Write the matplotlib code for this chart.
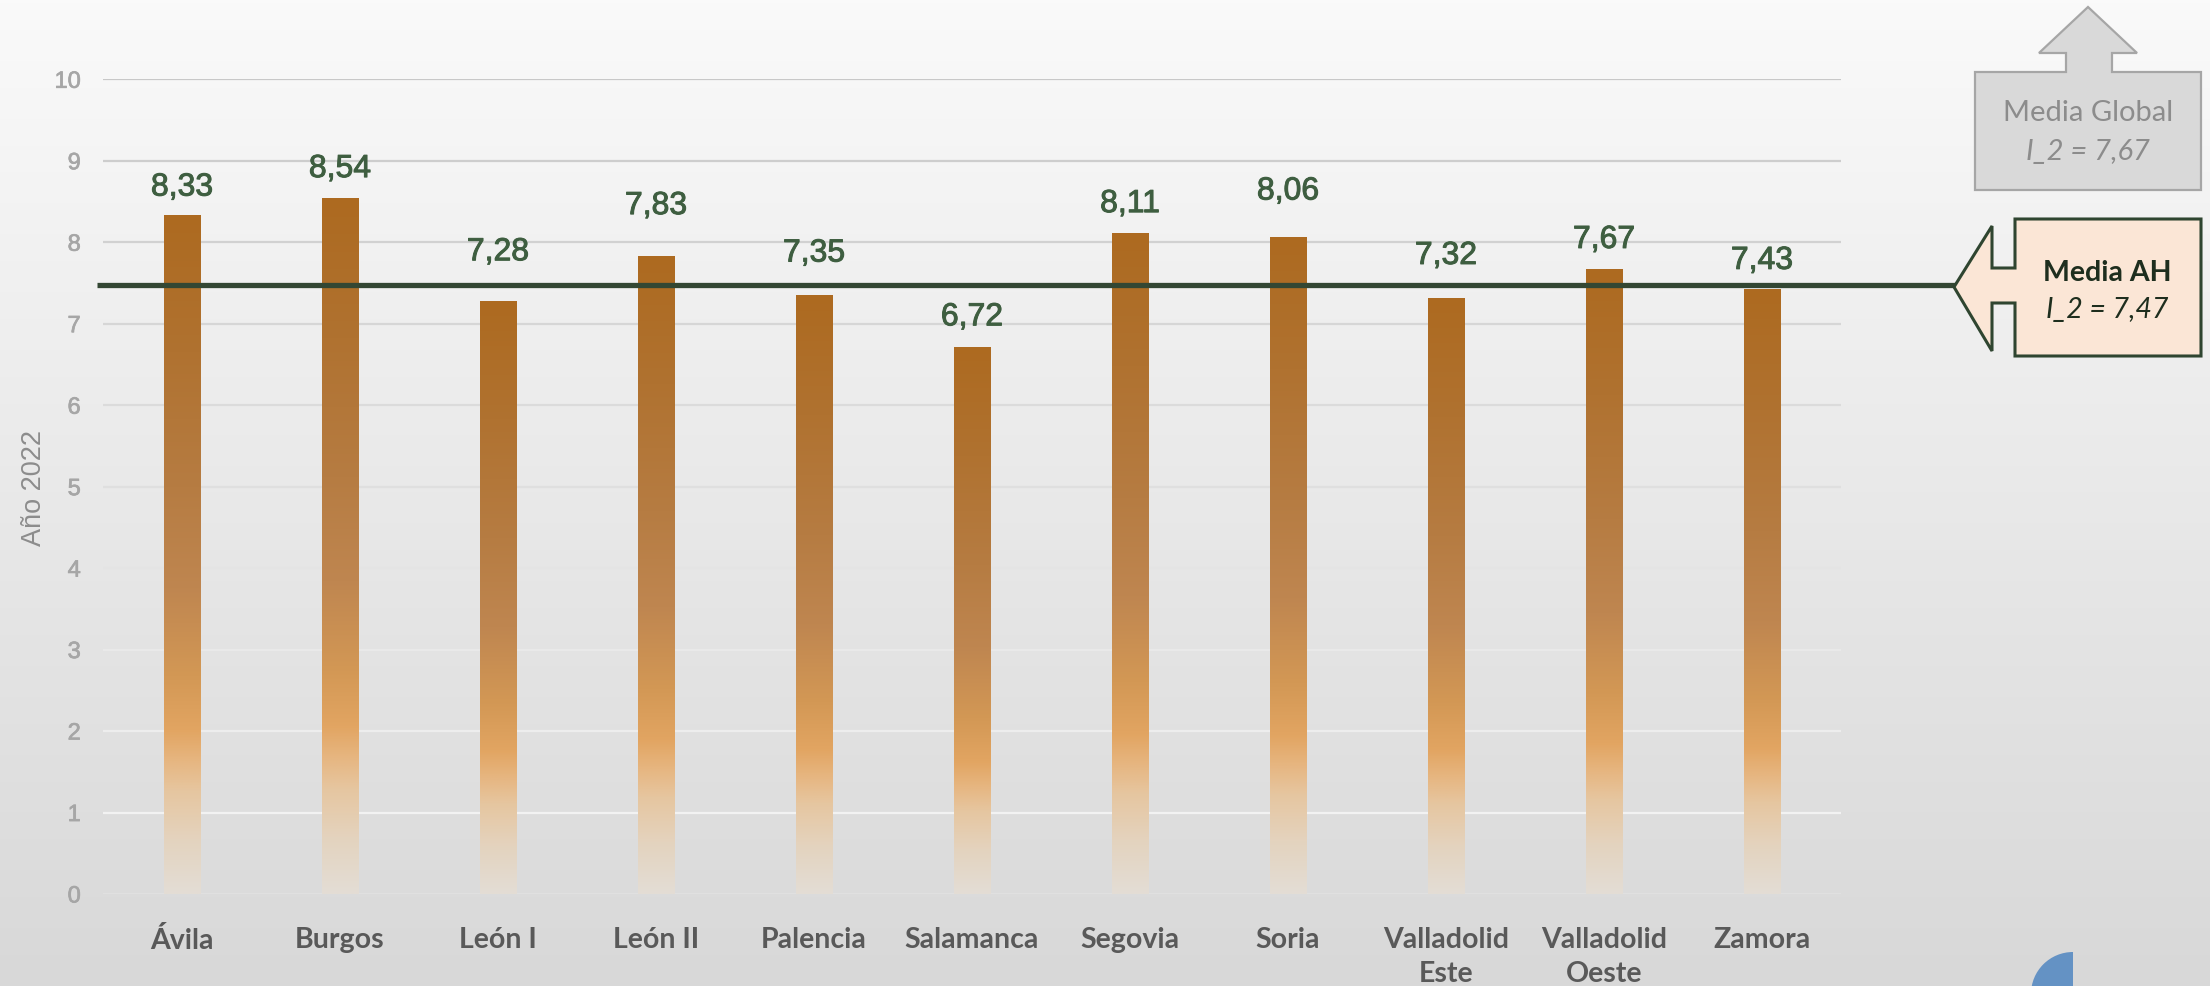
import matplotlib
matplotlib.use("Agg")
import matplotlib.pyplot as plt
import matplotlib.patheffects as pe
import numpy as np
from matplotlib.colors import LinearSegmentedColormap, to_rgb
from matplotlib.patches import Polygon, Wedge

W, H = 2210, 987

categories = ["Ávila", "Burgos", "León I", "León II", "Palencia", "Salamanca",
              "Segovia", "Soria", "Valladolid\nEste", "Valladolid\nOeste", "Zamora"]
values = [8.33, 8.54, 7.28, 7.83, 7.35, 6.72, 8.11, 8.06, 7.32, 7.67, 7.43]
media_ah = 7.47
media_global = 7.67
y_ticks = list(range(0, 11))

# data labels were nudged by hand in the original, offsets above bar top (pt)
label_offsets = [20, 21, 35, 36, 30, 21, 21, 33, 30, 21, 20]

fig = plt.figure(figsize=(W / 100, H / 100), dpi=100)

# page background gradient
bg = fig.add_axes([0, 0, 1, 1], zorder=-5)
grad = np.linspace(0, 1, 256).reshape(-1, 1)
bg_cmap = LinearSegmentedColormap.from_list("bg", ["#fafafa", "#d8d8d8"])
bg.imshow(grad, aspect="auto", cmap=bg_cmap, extent=[0, 1, 1, 0])
bg.set_xlim(0, 1)
bg.set_ylim(1, 0)
bg.axis("off")

ax = fig.add_axes([103 / W, 1 - 895 / H, 1738 / W, (895 - 80.3) / H], zorder=1)
ax.set_facecolor("none")
for s in ax.spines.values():
    s.set_visible(False)

# gridlines, darker on top, lighter near the bottom
top_c, mid_c, bot_c = np.array(to_rgb("#c8c8c8")), np.array(to_rgb("#f2f2f2")), np.array(to_rgb("#e0e0e0"))
for v in y_ticks:
    if v == 0:
        c = bot_c
    else:
        t = (v - 1) / 9
        c = mid_c * (1 - t) + top_c * t
    ax.axhline(v, color=c, lw=1.6, zorder=0)

bar_cmap = LinearSegmentedColormap.from_list("bar", [
    (0.00, "#e3ddd5"), (0.08, "#e4d3be"), (0.15, "#e6c6a0"), (0.20, "#e6b47d"),
    (0.24, "#e2a562"), (0.32, "#d39855"), (0.45, "#bf8650"), (0.60, "#b67c42"),
    (0.80, "#b07230"), (1.00, "#ad6a20")])

thick = [pe.withStroke(linewidth=0.7, foreground="#3e5e40")]
bar_w = 0.228
bars = ax.bar(range(len(values)), values, width=bar_w, color="none", zorder=2)
for rect, v, off in zip(bars, values, label_offsets):
    x0 = rect.get_x()
    im = ax.imshow(np.linspace(1, 0, 256).reshape(-1, 1), cmap=bar_cmap, aspect="auto",
                   extent=[x0, x0 + bar_w, 0, v], vmin=0, vmax=1, zorder=2)
    im.set_clip_path(rect)
    ax.annotate(f"{v:.2f}".replace(".", ","), (rect.get_x() + bar_w / 2, v),
                xytext=(0, off), textcoords="offset points", ha="center", va="center",
                fontsize=23, color="#3e5e40", family="Liberation Sans", path_effects=thick)
ax.set_xlim(-0.5, len(categories) - 0.5)
ax.set_ylim(0, 10)

# media AH line, running past the plot towards the callout
ax.plot([-0.0035, 1.107], [media_ah, media_ah], color="#334733", lw=3.8,
        transform=ax.get_yaxis_transform(), clip_on=False, zorder=3, solid_capstyle="butt")

ax.set_yticks(y_ticks)
ax.set_yticklabels([str(v) for v in y_ticks], family="Liberation Sans", fontsize=17, color="#a6a6a6")
for t in ax.get_yticklabels():
    t.set_path_effects([pe.withStroke(linewidth=0.5, foreground="#a6a6a6")])
ax.set_xticks(range(len(categories)))
ax.set_xticklabels(categories, family="Lato", fontweight="bold", fontsize=20.5,
                   color="#595959", linespacing=1.4)
ax.tick_params(axis="y", length=0, pad=16)
ax.tick_params(axis="x", length=0, pad=23)
ax.set_ylabel("Año 2022", family="Liberation Sans", fontsize=19.5, color="#8c8c8c")
ax.yaxis.set_label_coords(-0.032, 0.5)

# callouts in pixel coordinates
ov = fig.add_axes([0, 0, 1, 1], zorder=4)
ov.set_facecolor("none")
ov.set_xlim(0, W)
ov.set_ylim(H, 0)
ov.axis("off")

up_arrow = [(1975, 191), (1975, 73), (2066, 73), (2066, 54), (2039, 54), (2088, 8),
            (2137, 54), (2112, 54), (2112, 73), (2201, 73), (2201, 191)]
ov.add_patch(Polygon(up_arrow, closed=True, facecolor="#d9d9d9", edgecolor="#a6a6a6", lw=1.6))
ov.text(2088, 113, "Media Global", ha="center", va="center", family="Lato",
        fontsize=21, color="#8c8c8c")
ov.text(2088, 152, f"I_2 = {media_global:.2f}".replace(".", ","), ha="center", va="center",
        family="Lato", fontstyle="italic", fontsize=21, color="#8c8c8c")

left_arrow = [(2201, 220), (2015, 220), (2015, 269), (1992, 269), (1992, 227), (1954, 288),
              (1992, 352), (1992, 304), (2015, 304), (2015, 357), (2201, 357)]
ov.add_patch(Polygon(left_arrow, closed=True, facecolor="#fbe6d6", edgecolor="#2f4530", lw=2.2))
ov.text(2107, 273, "Media AH", ha="center", va="center", family="Lato", fontweight="bold",
        fontsize=20.5, color="#1e2e1e")
ov.text(2107, 310, f"I_2 = {media_ah:.2f}".replace(".", ","), ha="center", va="center",
        family="Lato", fontstyle="italic", fontsize=20.5, color="#1e2e1e")

ov.add_patch(Wedge((2073, 995), 42, 180, 270, facecolor="#6492c4", edgecolor="none"))

fig.savefig("out.png", dpi=100)
